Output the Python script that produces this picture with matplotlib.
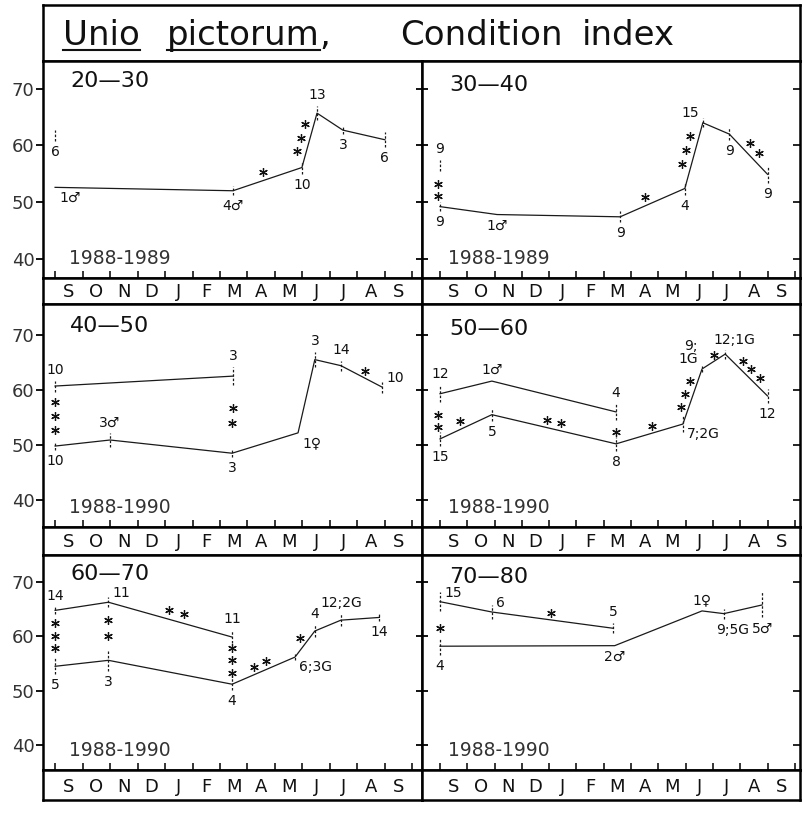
import matplotlib
matplotlib.use('Agg')
import matplotlib.pyplot as plt
from matplotlib.lines import Line2D
import numpy as np

plt.rcParams['font.family'] = ['DejaVu Sans']

W, H = 804, 814

# ---------------- data ----------------
MONTHS = ['S', 'O', 'N', 'D', 'J', 'F', 'M', 'A', 'M', 'J', 'J', 'A', 'S']
Y_TICKS = [40, 50, 60, 70]
SIZE_CLASSES = ['20—30', '30—40', '40—50', '50—60', '60—70', '70—80']
PERIODS = ['1988-1989', '1988-1989', '1988-1990', '1988-1990', '1988-1990', '1988-1990']

# x = month position (0 = start of September 1988), y = condition index
# 20-30 mm
c20_x = [0.0, 6.47, 8.98, 9.53, 10.47, 12.0]
c20_y = [52.6, 52.0, 56.1, 65.7, 62.7, 61.0]
c20_n = ['1♂', '4♂', '10', '13', '3', '6']
c20_e = [0.0, 0.8, 1.2, 1.3, 0.7, 1.3]
c20b_x = [0.0]
c20b_y = [61.7]
c20b_n = ['6']
c20b_e = [1.0]

# 30-40 mm
c30_x = [0.0, 2.09, 6.6, 8.97, 9.63, 10.6, 12.0]
c30_y = [49.2, 47.8, 47.4, 52.4, 64.0, 62.0, 54.9]
c30_n = ['9', '1♂', '9', '4', '15', '9', '9']
c30_e = [0.8, 0.0, 1.0, 1.2, 0.8, 1.0, 1.5]
c30b_x = [0.0]
c30b_y = [56.5]
c30b_n = ['9']
c30b_e = [1.0]

# 40-50 mm
c40a_x = [0.0, 6.47]
c40a_y = [60.7, 62.5]
c40a_n = ['10', '3']
c40a_e = [1.0, 1.6]
c40b_x = [0.0, 2.0, 6.44, 8.84, 9.45, 10.4, 11.9]
c40b_y = [49.8, 50.9, 48.5, 52.2, 65.5, 64.4, 60.5]
c40b_n = ['10', '3♂', '3', '1♀', '3', '14', '10']
c40b_e = [0.8, 1.2, 0.7, 0.0, 1.4, 0.9, 1.0]

# 50-60 mm
c50a_x = [0.0, 1.9, 6.45]
c50a_y = [59.3, 61.6, 56.0]
c50a_n = ['12', '1♂', '4']
c50a_e = [1.5, 0.0, 1.4]
c50b_x = [0.0, 1.9, 6.45, 8.9, 9.6, 10.45, 12.0]
c50b_y = [51.1, 55.5, 50.2, 53.8, 63.8, 66.5, 58.9]
c50b_n = ['15', '5', '8', '7;2G', '9;\n1G', '12;1G', '12']
c50b_e = [1.2, 1.2, 1.3, 1.4, 0.5, 0.8, 1.2]

# 60-70 mm
c60a_x = [0.0, 1.94, 6.43]
c60a_y = [64.8, 66.3, 59.9]
c60a_n = ['14', '11', '11']
c60a_e = [0.6, 0.9, 1.2]
c60b_x = [0.0, 1.94, 6.44, 8.73, 9.45, 10.4, 11.8]
c60b_y = [54.5, 55.6, 51.2, 56.2, 61.0, 63.0, 63.5]
c60b_n = ['5', '3', '4', '6;3G', '4', '12;2G', '14']
c60b_e = [1.5, 1.9, 1.1, 0.6, 1.1, 1.1, 0.7]

# 70-80 mm
c70a_x = [0.0, 1.9, 6.35]
c70a_y = [66.4, 64.5, 61.5]
c70a_n = ['15', '6', '5']
c70a_e = [1.8, 1.2, 0.9]
c70b_x = [0.0, 6.4, 9.6, 10.4, 11.8]
c70b_y = [58.2, 58.3, 64.7, 64.2, 65.8]
c70b_n = ['4', '2♂', '1♀', '9;5G', '5♂']
c70b_e = [1.6, 0.0, 0.0, 0.9, 2.3]

# significance stars: (series a, idx a, series b, idx b, count)
stars20 = [(0, 1, 0, 2, 1), (0, 2, 0, 3, 3)]
stars30 = [(1, 0, 0, 0, 2), (0, 2, 0, 3, 1), (0, 3, 0, 4, 3), (0, 5, 0, 6, 2)]
stars40 = [(0, 0, 1, 0, 3), (0, 1, 1, 2, 2), (1, 5, 1, 6, 1)]
stars50 = [(0, 0, 1, 0, 2), (1, 0, 1, 1, 1), (1, 1, 1, 2, 2), (0, 2, 1, 2, 1),
           (1, 2, 1, 3, 1), (1, 3, 1, 4, 3), (1, 4, 1, 5, 1), (1, 5, 1, 6, 3)]
stars60 = [(0, 0, 1, 0, 3), (0, 1, 1, 1, 2), (0, 1, 0, 2, 2), (0, 2, 1, 2, 3),
           (1, 2, 1, 3, 2), (1, 3, 1, 4, 1)]
stars70 = [(0, 0, 1, 0, 1), (0, 1, 0, 2, 1)]

# ---------------- style (placement) ----------------
# star placement: (t along segment, spacing px, dx px, dy px)
stars20_pos = [(0.5, 0, -4, 7), (0.55, 14, -9, 0)]
stars30_pos = [(0.61, 12, -2, 0), (0.5, 0, -7, 6), (0.58, 14.5, -9, 0), (0.58, 14, 3, 9)]
stars40_pos = [(0.5, 14, 0, 0), (0.51, 15, 0, 0), (0.58, 0, 0, 7)]
stars50_pos = [(0.6, 12, -2, 0), (0.45, 0, -3, 7), (0.5, 15, 0, 8), (0.62, 0, 0, 0),
               (0.5, 0, 3, 8), (0.55, 14, -8, 0), (0.5, 0, 0, 7), (0.55, 12, 3, 8)]
stars60_pos = [(0.45, 12.5, 0, 0), (0.45, 16, 0, 0), (0.55, 15, 0, 9), (0.49, 12.5, 0, 0),
               (0.45, 13, 0, 8), (0.5, 0, -5, 6)]
stars70_pos = [(0.585, 0, 0, 0), (0.5, 0, -2, 7)]

# label placement codes per series
L = {
    'a': (0, 4, 'center', 'bottom', 1),
    'b': (0, -4, 'center', 'top', -1),
    'ar': (4, 2, 'left', 'bottom', 0),
    'br': (4, -3, 'left', 'top', 0),
    'al': (-4, 3, 'right', 'bottom', 0),
    'ac': (9, 3, 'center', 'bottom', 1),
    'bc': (9, -4, 'center', 'top', -1),
}
lab20 = ['br', 'b', 'b', 'a', 'b', 'b']
lab20b = ['b']
lab30 = ['b', 'b', 'b', 'b', 'al', 'b', 'b']
lab30b = ['a']
lab40a = ['a', 'a']
lab40b = ['b', 'a', 'b', 'br', 'a', 'a', 'ar']
lab50a = ['a', 'a', 'a']
lab50b = ['b', 'b', 'b', 'br', 'al', 'ac', 'b']
lab60a = ['a', 'ar', 'a']
lab60b = ['b', 'b', 'b', 'br', 'a', 'a', 'b']
lab70a = ['ar', 'ar', 'a']
lab70b = ['b', 'b', 'a', 'bc', 'b']

panels = [
    dict(series=[(c20_x, c20_y, c20_n, c20_e, lab20, True),
                 (c20b_x, c20b_y, c20b_n, c20b_e, lab20b, False)],
         stars=stars20, spos=stars20_pos),
    dict(series=[(c30_x, c30_y, c30_n, c30_e, lab30, True),
                 (c30b_x, c30b_y, c30b_n, c30b_e, lab30b, False)],
         stars=stars30, spos=stars30_pos),
    dict(series=[(c40a_x, c40a_y, c40a_n, c40a_e, lab40a, True),
                 (c40b_x, c40b_y, c40b_n, c40b_e, lab40b, True)],
         stars=stars40, spos=stars40_pos),
    dict(series=[(c50a_x, c50a_y, c50a_n, c50a_e, lab50a, True),
                 (c50b_x, c50b_y, c50b_n, c50b_e, lab50b, True)],
         stars=stars50, spos=stars50_pos),
    dict(series=[(c60a_x, c60a_y, c60a_n, c60a_e, lab60a, True),
                 (c60b_x, c60b_y, c60b_n, c60b_e, lab60b, True)],
         stars=stars60, spos=stars60_pos),
    dict(series=[(c70a_x, c70a_y, c70a_n, c70a_e, lab70a, True),
                 (c70b_x, c70b_y, c70b_n, c70b_e, lab70b, True)],
         stars=stars70, spos=stars70_pos),
]

# ---------------- layout ----------------
fig = plt.figure(figsize=(W / 100, H / 100), dpi=100)


def frac(x0, y0, x1, y1):
    return [x0 / W, 1 - y1 / H, (x1 - x0) / W, (y1 - y0) / H]


COL_X = [(43, 422), (422, 800)]
ROWS = [(61, 278, 304), (304, 527, 555), (555, 770, 800)]
YLIMS = [(36.6, 74.9), (35.1, 75.6), (35.4, 75.0)]
XLIMS = [(-0.44, 13.35), (-0.66, 13.19)]
TITLE_DY = [-10, -14, -12, -15, -9, -12]
FRAME_LW = 1.8
LINE_C = '#1a1a1a'
TXT_C = '#111111'

# title box
tax = fig.add_axes(frac(43, 5, 800, 61))
tax.set_xticks([])
tax.set_yticks([])
for s in tax.spines.values():
    s.set_linewidth(FRAME_LW)

title_fs = 24.5
base_y = 1 - 45 / H
t_unio = fig.text(63 / W, base_y, 'Unio', fontsize=title_fs, va='baseline', color=TXT_C)
t_pict = fig.text(167 / W, base_y, 'pictorum', fontsize=title_fs, va='baseline', color=TXT_C)
fig.text(400 / W, base_y, 'Condition', fontsize=title_fs, va='baseline', color=TXT_C)
fig.text(582 / W, base_y, 'index', fontsize=title_fs, va='baseline', color=TXT_C)

for k in range(6):
    row, col = divmod(k, 2)
    x0, x1 = COL_X[col]
    ytop, ybot, ystrip = ROWS[row]
    ax = fig.add_axes(frac(x0, ytop, x1, ybot))
    sx = fig.add_axes(frac(x0, ybot, x1, ystrip))
    ax.set_xlim(*XLIMS[col])
    ax.set_ylim(*YLIMS[row])
    sx.set_xlim(*XLIMS[col])
    sx.set_ylim(0, 1)
    for a in (ax, sx):
        for s in a.spines.values():
            s.set_linewidth(FRAME_LW)
    # month strip
    sx.set_xticks([])
    sx.set_yticks([])
    for i, m in enumerate(MONTHS):
        sx.text(i + 0.5, 0.45, m, ha='center', va='center', fontsize=13, color=TXT_C)
    # bottom ticks at month boundaries
    ax.set_xticks(np.arange(0, 14))
    ax.tick_params(axis='x', direction='in', length=5, width=1.1, labelbottom=False)
    ax.set_yticks(Y_TICKS)
    if col == 0:
        ax.tick_params(axis='y', direction='out', length=5, width=1.3,
                       labelsize=13, labelcolor='#333333', pad=1)
    else:
        ax.tick_params(axis='y', direction='inout', length=9, width=1.3, labelleft=False)
        tw = ax.twinx()
        tw.set_ylim(*YLIMS[row])
        tw.set_yticks(Y_TICKS)
        tw.tick_params(axis='y', direction='in', length=5, width=1.2, labelright=False)
        for s in tw.spines.values():
            s.set_visible(False)

    # panel title and period
    ax.annotate(SIZE_CLASSES[k], xy=(0, 1), xycoords='axes fraction',
                xytext=(27, TITLE_DY[k]), textcoords='offset pixels',
                ha='left', va='top', fontsize=16, color=TXT_C)
    ax.annotate(PERIODS[k], xy=(0, 0), xycoords='axes fraction',
                xytext=(26, 10), textcoords='offset pixels',
                ha='left', va='bottom', fontsize=13.5, color='#333333')

    p = panels[k]
    for (xs, ys, ns, es, labs, connect) in p['series']:
        if connect:
            ax.plot(xs, ys, color=LINE_C, lw=0.9)
        for xi, yi, ni, ei, li in zip(xs, ys, ns, es, labs):
            if ei > 0:
                ax.vlines(xi, yi - ei, yi + ei, colors=LINE_C, lw=0.9,
                          linestyles=(0, (2, 1.5)))
            dx, dy, ha, va, sgn = L[li]
            ax.annotate(ni, xy=(xi, yi + sgn * ei), xycoords='data',
                        xytext=(dx, dy), textcoords='offset pixels',
                        ha=ha, va=va, fontsize=10, color=TXT_C, linespacing=0.95)

    # stars
    ser = p['series']
    for (sa, ia, sb, ib, cnt), (t, sp, dxp, dyp) in zip(p['stars'], p['spos']):
        pa = ax.transData.transform((ser[sa][0][ia], ser[sa][1][ia]))
        pb = ax.transData.transform((ser[sb][0][ib], ser[sb][1][ib]))
        d = pb - pa
        u = d / np.hypot(*d)
        c = pa + t * d + np.array([dxp, dyp])
        offs = (np.arange(cnt) - (cnt - 1) / 2) * sp
        pts = np.array([c + o * u for o in offs])
        dpts = ax.transData.inverted().transform(pts)
        ax.plot(dpts[:, 0], dpts[:, 1], ls='none', marker=(6, 2, 0), ms=6.2,
                mew=0.9, color=TXT_C)

# underline title words
fig.canvas.draw()
r = fig.canvas.get_renderer()
bb = t_pict.get_window_extent(r)
fig.text(bb.x1 / W, base_y, ',', fontsize=title_fs, va='baseline', color=TXT_C)
uy = 1 - 50 / H
for t in (t_unio, t_pict):
    b = t.get_window_extent(r)
    fig.add_artist(Line2D([b.x0 / W, b.x1 / W], [uy, uy], transform=fig.transFigure,
                          color=TXT_C, lw=1.5))

fig.savefig('out.png', dpi=100)
